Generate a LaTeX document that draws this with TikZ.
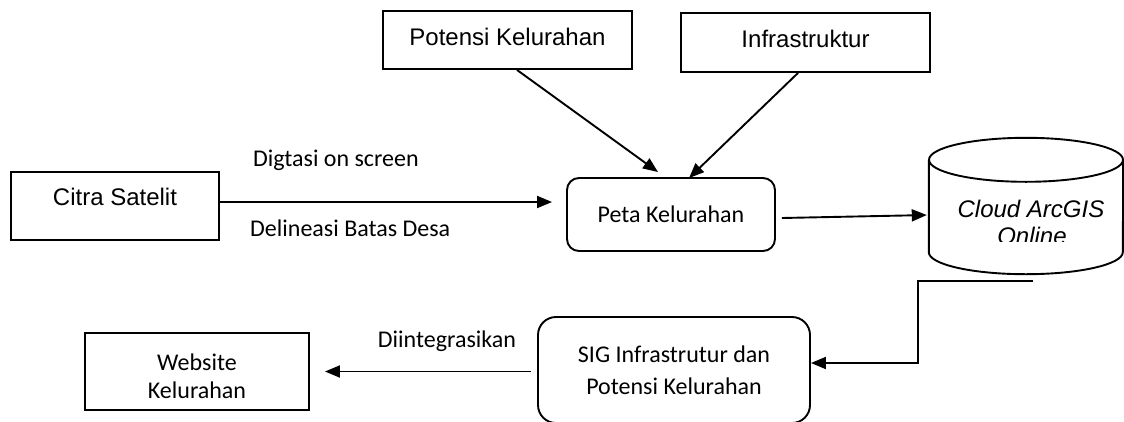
\documentclass[tikz,border=0pt]{standalone}
\usepackage{fontspec}
\setmainfont{Carlito}
\newfontfamily\arialf{Liberation Sans}
\usetikzlibrary{arrows.meta,calc}
\begin{document}
\begin{tikzpicture}[x=1pt,y=-1pt,
  lw/.style={line width=1.9pt},
  arr/.style={lw,-{Triangle[length=15pt,width=12pt]}},
  sqbox/.style={draw,lw,inner sep=0pt,font=\arialf\fontsize{24}{28}\selectfont,text height=17pt},
  rbox/.style={draw,lw,inner sep=0pt,align=center},
  cal/.style={font=\fontsize{24}{28}\selectfont},
  calb/.style={font=\fontsize{24}{32}\selectfont},
  itl/.style={font=\arialf\itshape\fontsize{24}{28}\selectfont,anchor=base,inner sep=0pt},
]
\useasboundingbox (0,0) rectangle (1124,421);
\fill[white] (0,0) rectangle (1124,421);

% square boxes
\node[sqbox,minimum width=249pt,minimum height=58pt,text depth=7pt] (pot) at (507.5,40) {Potensi Kelurahan};
\node[sqbox,minimum width=249pt,minimum height=59pt,text depth=8pt] (inf) at (805.5,42.5) {Infrastruktur};
\node[sqbox,minimum width=208pt,minimum height=68pt,text depth=19pt] (cit) at (115,206) {Citra Satelit};
\node[rbox,cal,minimum width=224pt,minimum height=77pt] (web) at (197,371.5) {\rule{0pt}{27pt}Website\\Kelurahan};

% rounded boxes
\node[rbox,cal,rounded corners=12pt,minimum width=208pt,minimum height=73pt,text height=15.5pt,text depth=0pt] (peta) at (671,214.5) {Peta Kelurahan};
\node[rbox,calb,rounded corners=18pt,minimum width=272pt,minimum height=106pt] (sig) at (674,370) {SIG Infrastrutur dan\\Potensi Kelurahan};

% cylinder
\node[minimum width=194pt,minimum height=136pt,inner sep=0pt] (cloud) at (1026,206) {};
\draw[lw] ([yshift=-22pt]cloud.north) ellipse [x radius=97pt,y radius=22pt];
\draw[lw] ([yshift=-22pt]cloud.north west) -- ([yshift=22pt]cloud.south west)
  arc[start angle=180,end angle=360,x radius=97pt,y radius=22pt] -- ([yshift=-22pt]cloud.north east);
\begin{scope}
  \clip (900,100) rectangle (1124,241);
  \node[itl] (cl1) at (1031,217) {Cloud ArcGIS};
  \node[itl] (cl2) at (1032,244) {Online};
\end{scope}

% labels
\node[cal,anchor=base west,inner sep=0pt] (l1) at (253,166) {Digtasi on screen};
\node[cal,anchor=base west,inner sep=0pt] (l2) at (250,236) {Delineasi Batas Desa};
\node[cal,anchor=base,inner sep=0pt] (l3) at (447,347) {Diintegrasikan};

% connectors
\coordinate (a1) at ([yshift=4pt]cit.east);
\draw[arr,shorten >=14pt] (a1) -- (a1 -| peta.west);
\draw[arr] ([xshift=9.5pt]pot.south) -- ([xshift=-13pt,yshift=5pt]peta.north);
\draw[arr] ([xshift=-7.5pt]inf.south) -- ([xshift=18pt,yshift=-1pt]peta.north);
\draw[arr,shorten >=2pt] ([xshift=6pt,yshift=-3.5pt]peta.east) -- ([yshift=-9pt]cloud.west);
\coordinate (c1) at ([xshift=7pt,yshift=-7pt]cloud.south);
\draw[arr] (c1) -- ++(-115,0) |- ([yshift=7pt]sig.east);
\draw[arr,shorten <=6pt,shorten >=15pt] (sig.west |- web.east) -- (web.east);
\end{tikzpicture}
\end{document}
